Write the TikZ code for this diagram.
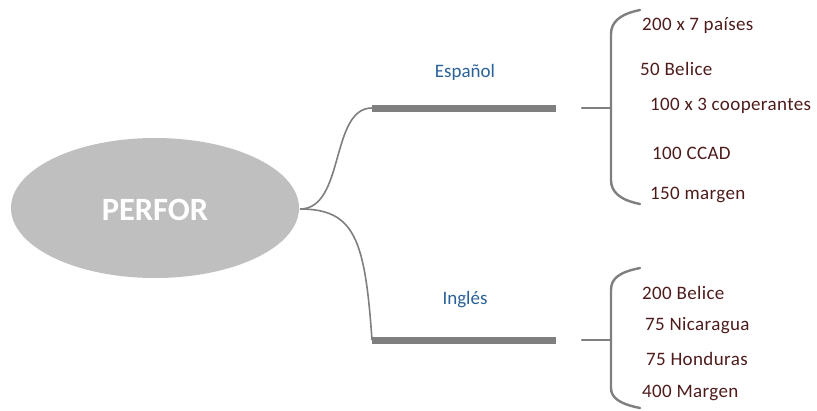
\documentclass[tikz,border=0pt]{standalone}
\usepackage{fontspec}
\setmainfont{Carlito}
\newfontfamily\itemfont[LetterSpace=2]{Carlito}
\usetikzlibrary{shapes.geometric}
\definecolor{ellgray}{HTML}{BFBFBF}
\definecolor{linegray}{HTML}{7F7F7F}
\definecolor{txtred}{HTML}{4E1B1B}
\definecolor{txtblue}{HTML}{2A6199}
\tikzset{
  item/.style={anchor=west,inner sep=0pt,text=txtred,font=\itemfont\fontsize{19}{21}\selectfont},
  lang/.style={text=txtblue,font=\fontsize{19}{21}\selectfont},
  bar/.style={draw=linegray,line width=7pt},
  thin/.style={draw=linegray,line width=1.6pt},
  brace/.style={draw=linegray,line width=2.4pt,line cap=round}
}
\begin{document}
\begin{tikzpicture}[x=1pt,y=-1pt]
\useasboundingbox (0,0) rectangle (817,410);
\node[ellipse,fill=ellgray,minimum width=288pt,minimum height=140pt,inner sep=0pt] (root) at (155,208) {};
\node[text=white,font=\fontsize{32.5}{34}\selectfont\bfseries] (rootlbl) at (155,210) {PERFOR};
\coordinate (src) at (300,209);
% upper branch
\coordinate (b1s) at (372,108);
\coordinate (b1e) at (556,108);
\draw[thin] (src) .. controls (345,209) and (330,108) .. (b1s);
\draw[bar] (b1s) -- (b1e);
\node[lang] (esp) at (465,72) {Español};
% lower branch
\coordinate (b2s) at (372,340);
\coordinate (b2e) at (556,340);
\draw[thin] (src) .. controls (355,209) and (365,240) .. (b2s);
\draw[bar] (b2s) -- (b2e);
\node[lang] (ing) at (465,300) {Inglés};
% upper brace
\coordinate (t1a) at (582,108);
\coordinate (t1b) at (611,108);
\draw[brace] (t1a) -- (t1b);
\coordinate (u1) at (640,10);
\coordinate (u2) at (640,204);
\draw[brace] (u1) .. controls (620,14) and (611,22) .. (611,34) -- (611,180) .. controls (611,192) and (620,200) .. (u2);
% lower brace
\coordinate (t2a) at (582,340);
\coordinate (t2b) at (611,340);
\draw[brace] (t2a) -- (t2b);
\coordinate (l1) at (640,268);
\coordinate (l2) at (640,408);
\draw[brace] (l1) .. controls (620,272) and (611,278) .. (611,290) -- (611,388) .. controls (611,398) and (620,404) .. (l2);
% items
\node[item] (i1) at (642,26) {200 x 7 países};
\node[item] (i2) at (640,69) {50 Belice};
\node[item] (i3) at (650,106) {100 x 3 cooperantes};
\node[item] (i4) at (652,153) {100 CCAD};
\node[item] (i5) at (650,195) {150 margen};
\node[item] (j1) at (642,293) {200 Belice};
\node[item] (j2) at (645,326) {75 Nicaragua};
\node[item] (j3) at (646,359) {75 Honduras};
\node[item] (j4) at (642,393) {400 Margen};
\end{tikzpicture}
\end{document}
